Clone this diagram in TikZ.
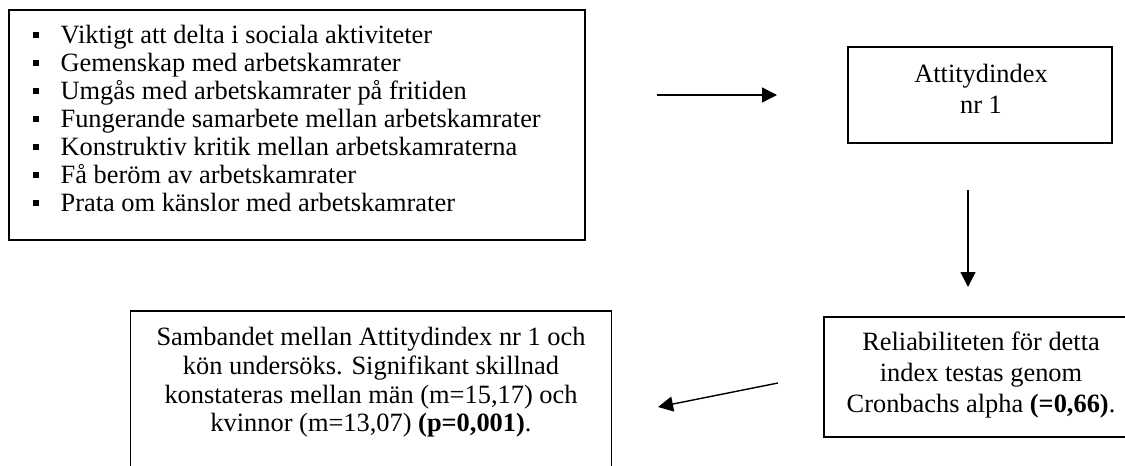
\documentclass[tikz,border=0pt]{standalone}
\usepackage{fontspec}
\setmainfont{Liberation Serif}
\usetikzlibrary{arrows.meta}
\newcommand{\fs}{\fontsize{13.2pt}{14pt}\selectfont}
\newcommand{\bulsq}{\makebox[13.8pt][l]{\rule[2.65pt]{3pt}{3pt}}}
\tikzset{
  boxnode/.style={draw, rectangle, line width=0.85pt, inner sep=0pt},
  txt/.style={inner sep=0pt, outer sep=0pt, font=\fs, anchor=base},
  listtxt/.style={inner sep=0pt, outer sep=0pt, font=\fs, anchor=base west},
  arr/.style={line width=0.7pt, -{Triangle[length=7.5pt,width=7.5pt]}}
}
\begin{document}
\begin{tikzpicture}[x=0.5pt,y=-0.5pt]
\useasboundingbox (0,0) rectangle (1125,466);
\fill[white] (0,0) rectangle (1125,466);
\clip (0,0) rectangle (1125,466);
% boxes
\node[boxnode, minimum width=288pt, minimum height=115pt] (b1) at (297,125) {};
\node[boxnode, minimum width=132pt, minimum height=48pt] (b2) at (980,95) {};
\node[boxnode, minimum width=157pt, minimum height=60pt] (b4) at (981,377) {};
\node[boxnode, minimum width=240.5pt, minimum height=82pt] (b3) at (371,393) {};
% list
\node[listtxt] (l1) at (33,43.3) {\bulsq Viktigt att delta i sociala aktiviteter};
\node[listtxt] (l2) at (33,71.4) {\bulsq Gemenskap med arbetskamrater};
\node[listtxt] (l3) at (33,99.5) {\bulsq Umgås med arbetskamrater på fritiden};
\node[listtxt] (l4) at (33,127.6) {\bulsq Fungerande samarbete mellan arbetskamrater};
\node[listtxt] (l5) at (33,155.6) {\bulsq Konstruktiv kritik mellan arbetskamraterna};
\node[listtxt] (l6) at (33,183.7) {\bulsq Få beröm av arbetskamrater};
\node[listtxt] (l7) at (33,211.7) {\bulsq Prata om känslor med arbetskamrater};
% box 2
\node[txt] (t21) at (981,82.6) {Attitydindex};
\node[txt] (t22) at (981,113.7) {nr 1};
% box 4
\node[txt] (t41) at (981,350) {Reliabiliteten för detta};
\node[txt] (t42) at (981,381) {index testas genom};
\node[txt] (t43) at (981,412) {Cronbachs alpha \textbf{(=0,66)}.};
% box 3
\node[txt] (t31) at (371,345) {Sambandet mellan Attitydindex nr 1 och};
\node[txt] (t32) at (371,374) {kön undersöks. Signifikant skillnad};
\node[txt] (t33) at (371,403) {konstateras mellan män (m=15,17) och};
\node[txt] (t34) at (371,431) {kvinnor (m=13,07) \textbf{(p=0,001)}.};
% arrows
\coordinate (a1s) at (657,95);
\coordinate (a1e) at (777,95);
\coordinate (a2s) at (968,190);
\coordinate (a2e) at (968,287);
\coordinate (a3s) at (778,383);
\coordinate (a3e) at (658,407);
\draw[arr] (a1s) -- (a1e);
\draw[arr] (a2s) -- (a2e);
\draw[arr] (a3s) -- (a3e);
\end{tikzpicture}
\end{document}
